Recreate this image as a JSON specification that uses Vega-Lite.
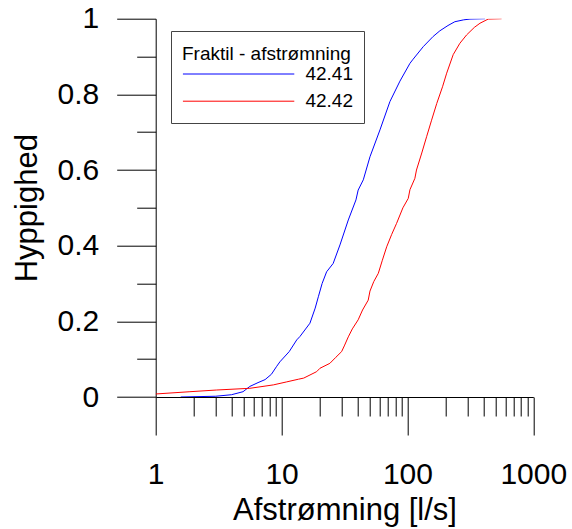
{
  "$schema": "https://vega.github.io/schema/vega-lite/v6.json",
  "width": 377.6,
  "height": 378.3,
  "autosize": {"type": "none"},
  "padding": {"left": 155.7, "top": 18.7, "right": 38.7, "bottom": 132},
  "background": "white",
  "config": {
    "view": {"stroke": null},
    "font": "Liberation Sans"
  },
  "data": {
    "values": [
      {"serie": "42.41", "q": 1.58, "p": 0.0},
      {"serie": "42.41", "q": 3.0, "p": 0.002},
      {"serie": "42.41", "q": 4.0, "p": 0.006},
      {"serie": "42.41", "q": 4.94, "p": 0.014},
      {"serie": "42.41", "q": 5.6, "p": 0.028},
      {"serie": "42.41", "q": 6.5, "p": 0.038},
      {"serie": "42.41", "q": 7.4, "p": 0.046},
      {"serie": "42.41", "q": 8.3, "p": 0.06},
      {"serie": "42.41", "q": 9.1, "p": 0.08},
      {"serie": "42.41", "q": 9.7, "p": 0.093},
      {"serie": "42.41", "q": 11.5, "p": 0.12},
      {"serie": "42.41", "q": 13.2, "p": 0.151},
      {"serie": "42.41", "q": 14.0, "p": 0.16},
      {"serie": "42.41", "q": 16.8, "p": 0.195},
      {"serie": "42.41", "q": 18.5, "p": 0.235},
      {"serie": "42.41", "q": 19.6, "p": 0.265},
      {"serie": "42.41", "q": 21.0, "p": 0.3},
      {"serie": "42.41", "q": 22.8, "p": 0.331},
      {"serie": "42.41", "q": 25.7, "p": 0.353},
      {"serie": "42.41", "q": 29.1, "p": 0.402},
      {"serie": "42.41", "q": 33.9, "p": 0.468},
      {"serie": "42.41", "q": 39.0, "p": 0.521},
      {"serie": "42.41", "q": 40.6, "p": 0.547},
      {"serie": "42.41", "q": 44.6, "p": 0.574},
      {"serie": "42.41", "q": 50.4, "p": 0.635},
      {"serie": "42.41", "q": 60.5, "p": 0.706},
      {"serie": "42.41", "q": 72.6, "p": 0.781},
      {"serie": "42.41", "q": 87.2, "p": 0.835},
      {"serie": "42.41", "q": 104.7, "p": 0.882},
      {"serie": "42.41", "q": 111.0, "p": 0.893},
      {"serie": "42.41", "q": 133.5, "p": 0.926},
      {"serie": "42.41", "q": 160.0, "p": 0.953},
      {"serie": "42.41", "q": 181.0, "p": 0.968},
      {"serie": "42.41", "q": 210.0, "p": 0.982},
      {"serie": "42.41", "q": 238.0, "p": 0.992},
      {"serie": "42.41", "q": 280.0, "p": 0.997},
      {"serie": "42.41", "q": 314.0, "p": 0.999},
      {"serie": "42.41", "q": 413.0, "p": 1.0},
      {"serie": "42.42", "q": 1.0, "p": 0.008},
      {"serie": "42.42", "q": 1.87, "p": 0.014},
      {"serie": "42.42", "q": 3.05, "p": 0.0185},
      {"serie": "42.42", "q": 5.6, "p": 0.023},
      {"serie": "42.42", "q": 8.6, "p": 0.032},
      {"serie": "42.42", "q": 11.0, "p": 0.04},
      {"serie": "42.42", "q": 13.6, "p": 0.047},
      {"serie": "42.42", "q": 15.0, "p": 0.05},
      {"serie": "42.42", "q": 19.0, "p": 0.067},
      {"serie": "42.42", "q": 20.2, "p": 0.076},
      {"serie": "42.42", "q": 24.2, "p": 0.089},
      {"serie": "42.42", "q": 27.0, "p": 0.105},
      {"serie": "42.42", "q": 30.0, "p": 0.12},
      {"serie": "42.42", "q": 31.5, "p": 0.135},
      {"serie": "42.42", "q": 33.9, "p": 0.159},
      {"serie": "42.42", "q": 36.5, "p": 0.18},
      {"serie": "42.42", "q": 40.6, "p": 0.204},
      {"serie": "42.42", "q": 44.0, "p": 0.23},
      {"serie": "42.42", "q": 48.8, "p": 0.256},
      {"serie": "42.42", "q": 50.4, "p": 0.28},
      {"serie": "42.42", "q": 54.0, "p": 0.305},
      {"serie": "42.42", "q": 58.7, "p": 0.327},
      {"serie": "42.42", "q": 63.0, "p": 0.36},
      {"serie": "42.42", "q": 68.4, "p": 0.397},
      {"serie": "42.42", "q": 75.0, "p": 0.43},
      {"serie": "42.42", "q": 82.0, "p": 0.459},
      {"serie": "42.42", "q": 92.0, "p": 0.5},
      {"serie": "42.42", "q": 101.5, "p": 0.525},
      {"serie": "42.42", "q": 104.7, "p": 0.548},
      {"serie": "42.42", "q": 114.6, "p": 0.578},
      {"serie": "42.42", "q": 118.0, "p": 0.6},
      {"serie": "42.42", "q": 130.0, "p": 0.645},
      {"serie": "42.42", "q": 142.0, "p": 0.688},
      {"serie": "42.42", "q": 155.0, "p": 0.73},
      {"serie": "42.42", "q": 171.0, "p": 0.776},
      {"serie": "42.42", "q": 190.0, "p": 0.82},
      {"serie": "42.42", "q": 205.0, "p": 0.856},
      {"serie": "42.42", "q": 231.0, "p": 0.905},
      {"serie": "42.42", "q": 261.0, "p": 0.935},
      {"serie": "42.42", "q": 295.0, "p": 0.957},
      {"serie": "42.42", "q": 340.0, "p": 0.977},
      {"serie": "42.42", "q": 377.0, "p": 0.988},
      {"serie": "42.42", "q": 438.0, "p": 0.999},
      {"serie": "42.42", "q": 560.0, "p": 1.0}
    ]
  },
  "mark": {"type": "line", "strokeWidth": 1, "clip": true},
  "encoding": {
    "x": {
      "field": "q",
      "type": "quantitative",
      "scale": {"type": "log", "domain": [1, 1000], "nice": false},
      "axis": {
        "title": "Afstrømning [l/s]",
        "titleFont": "Liberation Sans",
        "titleFontSize": 31,
        "titleFontWeight": "normal",
        "titleColor": "black",
        "titleBaseline": "alphabetic",
        "titleY": 122,
        "values": [1, 2, 3, 4, 5, 6, 7, 8, 9, 10, 20, 30, 40, 50, 60, 70, 80, 90, 100, 200, 300, 400, 500, 600, 700, 800, 900, 1000],
        "grid": false,
        "domainColor": "black",
        "domainWidth": 1,
        "tickColor": "black",
        "tickWidth": 1,
        "tickSize": {"condition": {"test": "indexof([1,10,100,1000], datum.value) >= 0", "value": 38}, "value": 19},
        "labelExpr": "indexof([1,10,100,1000], datum.value) >= 0 ? format(datum.value, 'd') : ''",
        "labelFont": "Liberation Sans",
        "labelFontSize": 30,
        "labelColor": "black",
        "labelPadding": 24,
        "labelOverlap": false,
        "labelFlush": false,
        "labelBound": false
      }
    },
    "y": {
      "field": "p",
      "type": "quantitative",
      "scale": {"domain": [0, 1], "nice": false},
      "axis": {
        "title": "Hyppighed",
        "titleFont": "Liberation Sans",
        "titleFontSize": 31,
        "titleFontWeight": "normal",
        "titleColor": "black",
        "titleBaseline": "alphabetic",
        "titleAngle": -90,
        "titleAlign": "center",
        "titleX": -119,
        "titleY": 189,
        "values": [0, 0.1, 0.2, 0.3, 0.4, 0.5, 0.6, 0.7, 0.8, 0.9, 1],
        "grid": false,
        "domainColor": "black",
        "domainWidth": 1,
        "tickColor": "black",
        "tickWidth": 1,
        "tickSize": {"condition": {"test": "round(datum.value*10) % 2 == 0", "value": 39}, "value": 19},
        "labelExpr": "round(datum.value*10) % 2 == 0 ? format(datum.value, '~g') : ''",
        "labelFont": "Liberation Sans",
        "labelFontSize": 30,
        "labelColor": "black",
        "labelPadding": 18,
        "labelOverlap": false,
        "labelFlush": false,
        "labelBound": false
      }
    },
    "color": {
      "field": "serie",
      "type": "nominal",
      "scale": {"domain": ["42.41", "42.42"], "range": ["#0000ff", "#ff0000"]},
      "legend": {
        "title": "Fraktil - afstrømning",
        "orient": "none",
        "legendX": 15.3,
        "legendY": 12.3,
        "titleFont": "Liberation Sans",
        "titleFontSize": 19,
        "titleFontWeight": "normal",
        "titleColor": "black",
        "titlePadding": 3.5,
        "labelFont": "Liberation Sans",
        "labelFontSize": 19,
        "labelColor": "black",
        "labelAlign": "right",
        "labelOffset": 155,
        "symbolType": "M-1,0H19",
        "symbolSize": 124,
        "symbolOffset": -3,
        "symbolStrokeWidth": 1,
        "rowPadding": 7.2,
        "padding": 11,
        "strokeColor": "#444444",
        "fillColor": "white",
        "cornerRadius": 0,
        "encode": {
          "title": {"update": {"dy": {"value": 2.5}}}
        }
      }
    }
  }
}
